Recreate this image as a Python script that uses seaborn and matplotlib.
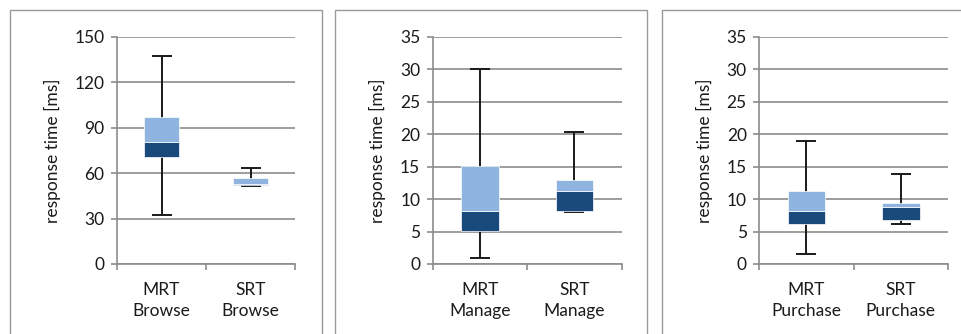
import matplotlib
matplotlib.use("Agg")
import matplotlib.pyplot as plt
from matplotlib.patches import Rectangle
import seaborn as sns
import pandas as pd

# Response-time summaries per scenario: min, Q1, median, Q3, max (ms)
browse_labels = ["MRT\nBrowse", "SRT\nBrowse"]
browse_min = [32.2, 51.3]
browse_q1 = [70.7, 52.0]
browse_med = [80.6, 53.1]
browse_q3 = [97.3, 56.6]
browse_max = [137.4, 63.4]

manage_labels = ["MRT\nManage", "SRT\nManage"]
manage_min = [1.0, 8.0]
manage_q1 = [5.1, 8.1]
manage_med = [8.2, 11.2]
manage_q3 = [15.1, 13.0]
manage_max = [30.1, 20.4]

purchase_labels = ["MRT\nPurchase", "SRT\nPurchase"]
purchase_min = [1.6, 6.1]
purchase_q1 = [6.1, 6.7]
purchase_med = [8.1, 8.75]
purchase_q3 = [11.25, 9.45]
purchase_max = [19.0, 13.8]

y_ticks_browse = [0, 30, 60, 90, 120, 150]
y_ticks_small = [0, 5, 10, 15, 20, 25, 30, 35]

DARK = "#1A4A7C"
LIGHT = "#8FB4DF"
GRID = "#8C8C8C"
TEXT = "#1A1A1A"
FONT = ["Lato", "DejaVu Sans"]
FS = 12.5

sns.set_theme(style="white")
plt.rcParams["font.family"] = FONT

fig = plt.figure(figsize=(9.62, 3.34), dpi=100)

panels = [
    (browse_labels, browse_min, browse_q1, browse_med, browse_q3, browse_max,
     y_ticks_browse, [117, 295], 61),
    (manage_labels, manage_min, manage_q1, manage_med, manage_q3, manage_max,
     y_ticks_small, [432.7, 621.7], 386),
    (purchase_labels, purchase_min, purchase_q1, purchase_med, purchase_q3,
     purchase_max, y_ticks_small, [759.3, 948], 713),
]
frames = [(10, 321.7), (335.3, 647.3), (661.7, 974)]

W, H = 962.0, 334.0
y_top_px, y_bot_px = 36.7, 264.0

for (lx, rx) in frames:
    fig.add_artist(Rectangle((lx / W, -0.1), (rx - lx) / W, 1.1 - 10 / H,
                             transform=fig.transFigure, fill=False,
                             edgecolor="#9A9A9A", linewidth=1.0))

for labels, vmin, q1, med, q3, vmax, yticks, (x0, x1), ylab_x in panels:
    ax = fig.add_axes([x0 / W, 1 - y_bot_px / H, (x1 - x0) / W,
                       (y_bot_px - y_top_px) / H])
    df = pd.DataFrame({"cat": labels, "q1": q1, "med": med, "q3": q3,
                       "lower": [m - a for m, a in zip(med, q1)],
                       "upper": [b - m for b, m in zip(q3, med)]})
    pos = range(len(labels))

    # whiskers from min to max, drawn beneath the boxes
    centers = [(lo + hi) / 2 for lo, hi in zip(vmin, vmax)]
    half = [(hi - lo) / 2 for lo, hi in zip(vmin, vmax)]
    ax.errorbar(list(pos), centers, yerr=half, fmt="none", ecolor=TEXT,
                elinewidth=1.4, capsize=7, capthick=1.4, zorder=2)

    # lower box (Q1 to median) and upper box (median to Q3)
    sns.barplot(data=df, x="cat", y="lower", bottom=df["q1"].values,
                color=DARK, saturation=1, width=0.4, errorbar=None,
                edgecolor="white", linewidth=0.5, zorder=3, ax=ax)
    sns.barplot(data=df, x="cat", y="upper", bottom=df["med"].values,
                color=LIGHT, saturation=1, width=0.4, errorbar=None,
                edgecolor="white", linewidth=0.5, zorder=3, ax=ax)

    ax.set_xlim(-0.5, len(labels) - 0.5)
    ax.set_ylim(yticks[0], yticks[-1])
    ax.set_yticks(yticks)
    ax.yaxis.grid(True, color=GRID, linewidth=1.2)
    ax.set_axisbelow(True)
    ax.set_xlabel("")
    ax.set_ylabel("response time [ms]", fontsize=FS, color=TEXT, family=FONT)
    ax.yaxis.set_label_coords((ylab_x - x0) / (x1 - x0), 0.5)

    for side in ("top", "right"):
        ax.spines[side].set_visible(False)
    for side in ("left", "bottom"):
        ax.spines[side].set_color(GRID)
        ax.spines[side].set_linewidth(1.2)

    ax.set_xticks(list(pos))
    ax.set_xticklabels(labels, fontsize=FS, color=TEXT,
                       linespacing=1.38, family=FONT)
    ax.set_xticks([i - 0.5 for i in range(len(labels) + 1)], minor=True)
    ax.tick_params(axis="x", which="major", length=0, pad=13)
    ax.tick_params(axis="x", which="minor", length=4, width=1.2,
                   color=GRID, direction="out", bottom=True)
    ax.tick_params(axis="y", length=4, width=1.2, color=GRID,
                   direction="out", left=True, labelsize=FS,
                   labelcolor=TEXT, pad=5)

fig.savefig("out.png", dpi=100)
